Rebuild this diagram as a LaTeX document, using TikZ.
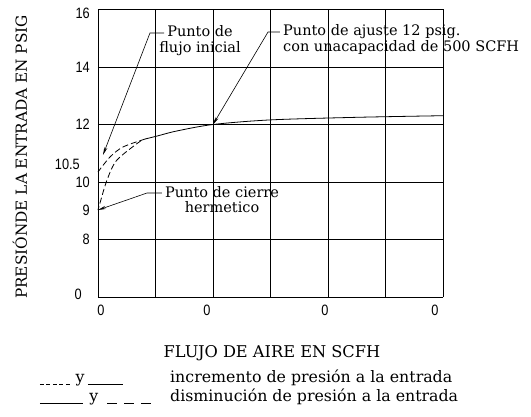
\documentclass[tikz,border=0pt]{standalone}
\usepackage{fontspec}
\setmainfont{DejaVu Serif}
\newfontfamily\escfont{Liberation Sans}[FakeStretch=0.85]
\usetikzlibrary{positioning,arrows.meta}

\begin{document}
\begin{tikzpicture}[x=57.5pt, y=57.5pt,
		rejilla/.style={line width=0.8pt},
		curva/.style={line width=0.8pt},
		curvatrazos/.style={line width=0.8pt, dash pattern=on 6pt off 3pt},
		flecha/.style={line width=0.6pt, -{Stealth[length=8pt,width=3.2pt]}},
		escala/.style={font=\escfont\fontsize{15}{15}\selectfont, inner sep=0pt},
		nota/.style={font=\fontsize{14.5}{16}\selectfont, inner xsep=3pt, inner ysep=0pt, text height=11pt, text depth=3pt},
		titulo/.style={font=\fontsize{16.2}{17}\selectfont, inner sep=0pt},
		leyenda/.style={font=\fontsize{15.8}{17}\selectfont, inner sep=0pt}]
		
		\useasboundingbox (-1.704,-2.070) rectangle (7.530,5.165);
		
		\foreach \i in {0,...,6}
			\draw[rejilla] (\i,0) -- (\i,5);
		\foreach \j in {0,...,5}
			\draw[rejilla] (0,\j) -- (6,\j);
		
		\node[escala, anchor=east] (e16) at (-0.139,4.93) {16};
		\node[escala, anchor=east] (e14) at (-0.139,4) {14};
		\node[escala, anchor=east] (e12) at (-0.139,3) {12};
		\node[escala, anchor=east] (e105) at (-0.313,2.31) {10.5};
		\node[escala, anchor=east] (e10) at (-0.139,2) {10};
		\node[escala, anchor=east] (e9) at (-0.139,1.5) {9};
		\node[escala, anchor=east] (e8) at (-0.139,1) {8};
		\node[escala, anchor=east] (e0) at (-0.278,0.05) {0};
		
		\node[escala] (q1) at (0.052,-0.226) {0};
		\node[escala] (q2) at (1.896,-0.226) {0};
		\node[escala] (q3) at (3.948,-0.226) {0};
		\node[escala] (q4) at (5.861,-0.226) {0};
		
		\draw[curva] plot[smooth] coordinates {(0.82,2.748) (1.03,2.80) (1.37,2.887) (2,3) (3,3.08) (4.5,3.125) (6,3.153)};
		\draw[curvatrazos] plot[smooth] coordinates {(0.82,2.748) (0.435,2.609) (0.209,2.435) (0,2.174)};
		\draw[curvatrazos] plot[smooth] coordinates {(0.75,2.72) (0.33,2.383) (0.157,2.035) (0.035,1.635) (0,1.513)};
		
		\coordinate (inicial) at (0.087,2.47);
		\coordinate (ajuste) at (2,3);
		\coordinate (cierre) at (0,1.513);
		\coordinate (codoA) at (0.904,4.643);
		\coordinate (codoB) at (2.957,4.643);
		\coordinate (codoC) at (0.852,1.843);
		
		\node[nota, anchor=base] (flujoA) at (1.774,4.522) {Punto de};
		\node[nota, below=1pt of flujoA] (flujoB) {flujo inicial};
		
		\node[nota, anchor=base west] (ajusteA) at (3.165,4.539) {Punto de ajuste 12 psig.};
		\node[nota, below=1pt of ajusteA.south west, anchor=north west] (ajusteB) {con unacapacidad de 500 SCFH};
		
		\node[nota, anchor=base] (cierreA) at (2.157,1.739) {Punto de cierre};
		\node[nota, below=1pt of cierreA] (cierreB) {hermetico};
		
		\draw[flecha] (flujoA.west) -- (flujoA.west -| codoA) -- (inicial);
		\draw[flecha] (ajusteA.west) -- (ajusteA.west -| codoB) -- (ajuste);
		\draw[flecha] (cierreA.west) -- (cierreA.west -| codoC) -- (cierre);
		
		\node[titulo, anchor=base] (flujo) at (3.026,-1.056) {FLUJO DE AIRE EN SCFH};
		\node[titulo, rotate=90, font=\fontsize{15.3}{17}\selectfont] (presion) at (-1.357,2.435) {PRESIÓNDE LA ENTRADA EN PSIG};
		
		% leyenda
		\draw[line width=0.8pt, dash pattern=on 4pt off 2.5pt] (-1.009,-1.513) -- (-0.487,-1.513);
		\node[leyenda, anchor=base] (y1) at (-0.313,-1.49) {y};
		\draw[curva] (-0.174,-1.513) -- (0.435,-1.513);
		\node[leyenda, anchor=base west] (incremento) at (1.252,-1.49) {incremento de presión a la entrada};
		
		\draw[curva] (-1.009,-1.843) -- (-0.261,-1.843);
		\node[leyenda, anchor=base] (y2) at (-0.07,-1.821) {y};
		\draw[line width=0.8pt, dash pattern=on 10pt off 7pt] (0.157,-1.843) -- (1.026,-1.843);
		\node[leyenda, anchor=base west] (disminucion) at (1.252,-1.821) {disminución de presión a la entrada};
\end{tikzpicture}
\end{document}
